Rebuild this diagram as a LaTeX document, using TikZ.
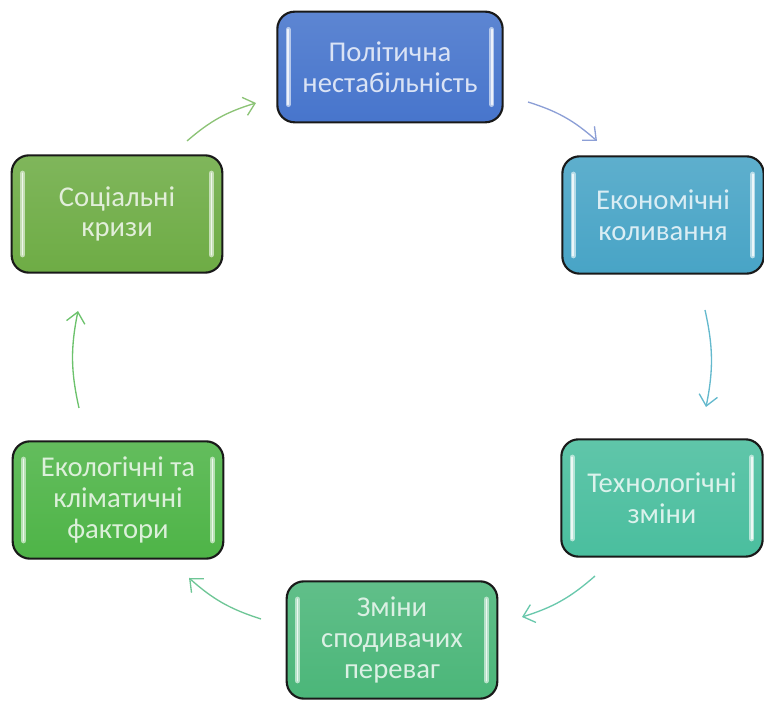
\documentclass[tikz,border=0pt]{standalone}
\usepackage{fontspec}
\setmainfont{Carlito}
\usepackage{tikz}
\tikzset{>=latex}
\usetikzlibrary{arrows.meta}

\definecolor{polc}{HTML}{4775CC}
\definecolor{ekoc}{HTML}{48A4C6}
\definecolor{tekc}{HTML}{4ABE9E}
\definecolor{zmic}{HTML}{4BB679}
\definecolor{ekolc}{HTML}{4EB447}
\definecolor{socc}{HTML}{6EAC45}

\definecolor{arrA}{RGB}{140,159,214}
\definecolor{arrB}{RGB}{100,185,205}
\definecolor{arrC}{RGB}{105,200,172}
\definecolor{arrD}{RGB}{110,198,150}
\definecolor{arrE}{RGB}{108,194,108}
\definecolor{arrF}{RGB}{140,195,118}

\tikzset{
  box/.style={draw=black!90, line width=1.6pt, rounded corners=13pt,
    minimum width=158pt, minimum height=88pt, align=center,
    font=\fontsize{21.5}{23}\selectfont,
    top color=#1!88!white, bottom color=#1, text=white!80!#1},
  glow/.style={line width=4pt, line cap=round, draw=white!60!#1},
  core/.style={line width=1.3pt, line cap=round, draw=white!90!#1},
  arr/.style={-{Straight Barb[length=8pt,width=14pt]}, line width=1pt, draw=#1},
}

\begin{document}
\begin{tikzpicture}[x=0.75pt, y=0.75pt]
\useasboundingbox (0,0) rectangle (764,702);

% Boxes
\node[box=polc, minimum width=169pt, minimum height=83pt] (pol) at (390,635) {Політична\\нестабільність};
\node[box=ekoc, minimum width=151pt] (eko) at (663,487) {Економічні\\коливання};
\node[box=tekc, minimum width=151pt] (tek) at (662,204) {Технологічні\\зміни};
\node[box=zmic] (zmi) at (392,62) {Зміни\\сподивачих\\переваг};
\node[box=ekolc] (ekol) at (118,202) {Екологічні та\\кліматичні\\фактори};
\node[box=socc] (soc) at (117,488) {Соціальні\\кризи};

% Light bars inside the boxes
\foreach \n/\c in {pol/polc, eko/ekoc, tek/tekc, zmi/zmic, ekol/ekolc, soc/socc}{
    \draw[glow=\c] ([shift={(12,-19)}]\n.north west) -- ([shift={(12,19)}]\n.south west);
    \draw[glow=\c] ([shift={(-12,-19)}]\n.north east) -- ([shift={(-12,19)}]\n.south east);
    \draw[core=\c] ([shift={(12,-19)}]\n.north west) -- ([shift={(12,19)}]\n.south west);
    \draw[core=\c] ([shift={(-12,-19)}]\n.north east) -- ([shift={(-12,19)}]\n.south east);
}

% Arrows
\coordinate (a1s) at (528,600);
\coordinate (a1e) at (597,561);
\coordinate (a2s) at (705,392);
\coordinate (a2e) at (706,295);
\coordinate (a3s) at (595,126);
\coordinate (a3e) at (522,85);
\coordinate (a4s) at (261,83);
\coordinate (a4e) at (189,124);
\coordinate (a5s) at (79,294);
\coordinate (a5e) at (78,391);
\coordinate (a6s) at (187,561);
\coordinate (a6e) at (256,599);

\draw[arr=arrA] (a1s) to[bend left=12] (a1e);
\draw[arr=arrB] (a2s) to[bend left=12] (a2e);
\draw[arr=arrC] (a3s) to[bend left=12] (a3e);
\draw[arr=arrD] (a4s) to[bend left=12] (a4e);
\draw[arr=arrE] (a5s) to[bend left=12] (a5e);
\draw[arr=arrF] (a6s) to[bend left=12] (a6e);

\end{tikzpicture}
\end{document}
